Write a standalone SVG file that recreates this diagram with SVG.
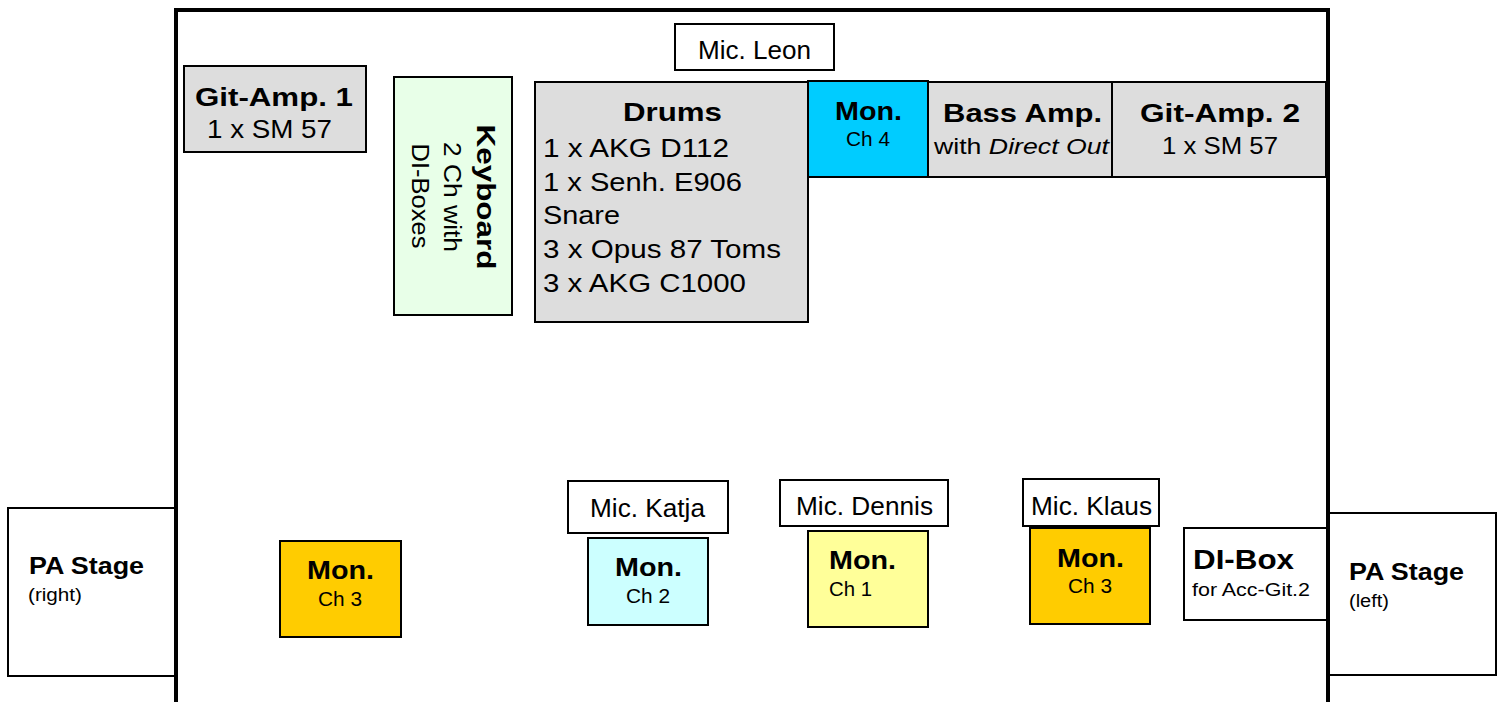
<svg xmlns="http://www.w3.org/2000/svg" width="1504" height="702" viewBox="0 0 1504 702">
<style>
  .box { stroke: #000; stroke-width: 2; }
  .gray { fill: #dddddd; }
  .white { fill: #ffffff; }
  text { font-family: "Liberation Sans", Arial, sans-serif; fill: #000; }
  .b { font-weight: bold; font-size: 26px; }
  .r { font-size: 25px; }
  .m { font-size: 23px; }
  .s { font-size: 20px; }
  .xs { font-size: 18px; }
</style>
<rect x="0" y="0" width="1504" height="702" fill="#ffffff"/>

<g id="pa-right">
  <rect class="box white" x="8" y="508" width="168" height="168"/>
  <text class="b" style="font-size:24px" x="29" y="574" textLength="115" lengthAdjust="spacingAndGlyphs">PA Stage</text>
  <text class="xs" x="28" y="601" textLength="54" lengthAdjust="spacingAndGlyphs">(right)</text>
</g>

<g id="pa-left">
  <rect class="box white" x="1328" y="513" width="168" height="162"/>
  <text class="b" style="font-size:24px" x="1349" y="580" textLength="115" lengthAdjust="spacingAndGlyphs">PA Stage</text>
  <text class="xs" x="1349" y="607" textLength="40" lengthAdjust="spacingAndGlyphs">(left)</text>
</g>

<g id="stage">
  <path d="M176,702 V10 H1328 V702" fill="none" stroke="#000" stroke-width="4"/>
</g>

<g id="git-amp-1">
  <rect class="box gray" x="184" y="66" width="182" height="86"/>
  <text class="b" x="195" y="106" textLength="158" lengthAdjust="spacingAndGlyphs">Git-Amp. 1</text>
  <text class="r" x="207" y="138" textLength="125" lengthAdjust="spacingAndGlyphs">1 x SM 57</text>
</g>

<g id="keyboard">
  <rect class="box" fill="#e8ffe8" x="394" y="77" width="118" height="238"/>
  <text class="b" transform="translate(477,197) rotate(90)" text-anchor="middle" textLength="145" lengthAdjust="spacingAndGlyphs">Keyboard</text>
  <text class="m" transform="translate(444,197) rotate(90)" text-anchor="middle" textLength="110" lengthAdjust="spacingAndGlyphs">2 Ch with</text>
  <text class="m" transform="translate(412,196) rotate(90)" text-anchor="middle" textLength="105" lengthAdjust="spacingAndGlyphs">DI-Boxes</text>
</g>

<g id="mic-leon">
  <rect class="box white" x="675" y="24" width="159" height="46"/>
  <text class="r" x="698" y="59" textLength="113" lengthAdjust="spacingAndGlyphs">Mic. Leon</text>
</g>

<g id="drums">
  <rect class="box gray" x="535" y="82" width="273" height="240"/>
  <text class="b" x="623" y="121" textLength="99" lengthAdjust="spacingAndGlyphs">Drums</text>
  <text class="r" x="543" y="157" textLength="186" lengthAdjust="spacingAndGlyphs">1 x AKG D112</text>
  <text class="r" x="543" y="191" textLength="199" lengthAdjust="spacingAndGlyphs">1 x Senh. E906</text>
  <text class="r" x="543" y="224" textLength="77" lengthAdjust="spacingAndGlyphs">Snare</text>
  <text class="r" x="543" y="258" textLength="238" lengthAdjust="spacingAndGlyphs">3 x Opus 87 Toms</text>
  <text class="r" x="543" y="292" textLength="203" lengthAdjust="spacingAndGlyphs">3 x AKG C1000</text>
</g>

<g id="mon-ch4">
  <rect class="box" fill="#00ccff" x="808" y="81" width="120" height="96"/>
  <text class="b" x="835" y="120" textLength="67" lengthAdjust="spacingAndGlyphs">Mon.</text>
  <text class="s" x="846" y="146" textLength="44" lengthAdjust="spacingAndGlyphs">Ch 4</text>
</g>

<g id="bass-amp">
  <rect class="box gray" x="928" y="82" width="184" height="95"/>
  <text class="b" x="943" y="122" textLength="159" lengthAdjust="spacingAndGlyphs">Bass Amp.</text>
  <text style="font-size:22px" x="934" y="154" textLength="175" lengthAdjust="spacingAndGlyphs">with <tspan font-style="italic">Direct Out</tspan></text>
</g>

<g id="git-amp-2">
  <rect class="box gray" x="1112" y="82" width="214" height="95"/>
  <text class="b" x="1140" y="122" textLength="160" lengthAdjust="spacingAndGlyphs">Git-Amp. 2</text>
  <text class="m" x="1162" y="154" textLength="116" lengthAdjust="spacingAndGlyphs">1 x SM 57</text>
</g>

<g id="mon-ch3-left">
  <rect class="box" fill="#ffcc00" x="280" y="541" width="121" height="96"/>
  <text class="b" x="307" y="579" textLength="67" lengthAdjust="spacingAndGlyphs">Mon.</text>
  <text class="s" x="318" y="606" textLength="44" lengthAdjust="spacingAndGlyphs">Ch 3</text>
</g>

<g id="mic-katja">
  <rect class="box white" x="568" y="481" width="160" height="52"/>
  <text class="r" x="590" y="517" textLength="115" lengthAdjust="spacingAndGlyphs">Mic. Katja</text>
</g>

<g id="mon-ch2">
  <rect class="box" fill="#ccffff" x="588" y="538" width="120" height="87"/>
  <text class="b" x="615" y="576" textLength="67" lengthAdjust="spacingAndGlyphs">Mon.</text>
  <text class="s" x="626" y="603" textLength="44" lengthAdjust="spacingAndGlyphs">Ch 2</text>
</g>

<g id="mic-dennis">
  <rect class="box white" x="780" y="480" width="168" height="46"/>
  <text class="r" x="796" y="515" textLength="137" lengthAdjust="spacingAndGlyphs">Mic. Dennis</text>
</g>

<g id="mon-ch1">
  <rect class="box" fill="#ffff99" x="808" y="531" width="120" height="96"/>
  <text class="b" x="829" y="569" textLength="67" lengthAdjust="spacingAndGlyphs">Mon.</text>
  <text class="s" x="829" y="596" textLength="43" lengthAdjust="spacingAndGlyphs">Ch 1</text>
</g>

<g id="mic-klaus">
  <rect class="box white" x="1023" y="479" width="136" height="47"/>
  <text class="r" x="1031" y="515" textLength="121" lengthAdjust="spacingAndGlyphs">Mic. Klaus</text>
</g>

<g id="mon-ch3-right">
  <rect class="box" fill="#ffcc00" x="1030" y="528" width="120" height="96"/>
  <text class="b" x="1057" y="567" textLength="67" lengthAdjust="spacingAndGlyphs">Mon.</text>
  <text class="s" x="1068" y="593" textLength="44" lengthAdjust="spacingAndGlyphs">Ch 3</text>
</g>

<g id="di-box">
  <rect class="box white" x="1184" y="528" width="143" height="92"/>
  <text class="b" style="font-size:28px" x="1193" y="569" textLength="101" lengthAdjust="spacingAndGlyphs">DI-Box</text>
  <text class="xs" style="font-size:19px" x="1192" y="596" textLength="118" lengthAdjust="spacingAndGlyphs">for Acc-Git.2</text>
</g>

<g id="connectors"></g>
</svg>
